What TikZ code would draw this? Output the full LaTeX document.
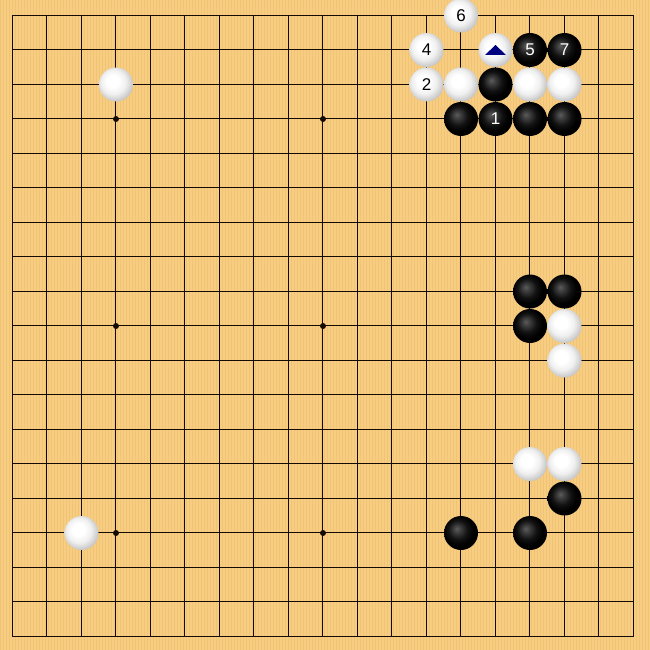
\documentclass[tikz,border=0pt]{standalone}
\usepackage{fontspec}
\setmainfont{Liberation Sans}
\pgfdeclareradialshading{blackstone}{\pgfpoint{-6.5bp}{6.5bp}}{color(0bp)=(black!64); color(5bp)=(black!75); color(14bp)=(black!93); color(22bp)=(black); color(50bp)=(black)}
\pgfdeclareradialshading{whitestone}{\pgfpoint{-6bp}{6bp}}{color(0bp)=(white); color(9bp)=(white); color(18bp)=(black!6); color(25bp)=(black!18); color(32bp)=(black!30); color(50bp)=(black!32)}
\definecolor{boardcol}{RGB}{247,205,130}
\definecolor{stripecol}{RGB}{241,195,119}
\definecolor{linecol}{RGB}{20,12,4}
\definecolor{markcol}{RGB}{0,0,128}
\tikzset{
  stone/.style={circle, minimum size=34pt, inner sep=0pt, font=\fontsize{17}{17}\selectfont},
  bstone/.style={stone, shading=blackstone, text=white},
  wstone/.style={stone, shading=whitestone, text=black},
  gridline/.style={draw=linecol, line width=1.25pt, line cap=rect},
  starpt/.style={circle, fill=linecol, minimum size=6pt, inner sep=0pt},
  trimark/.style={fill=markcol}
}
\begin{document}
\begin{tikzpicture}[x=1pt,y=-1pt]
\useasboundingbox (0,0) rectangle (650,650);
\fill[boardcol] (0,0) rectangle (650,650);
\foreach \s in {0,3,...,648} \fill[stripecol] (\s,0) rectangle (\s+1.3,650);
\foreach \i in {0,...,18} {
  \pgfmathsetmacro\px{floor(12+34.5*\i)+0.5}
  \pgfmathsetmacro\py{floor(15+34.5*\i)+0.5}
  \draw[gridline] (\px,15.5) -- (\px,636.5);
  \draw[gridline] (12.5,\py) -- (633.5,\py);
}
\begin{scope}[shift={(12.5,15.5)}, x=34.5pt, y=-34.5pt]
  \foreach \a/\b [count=\k] in {3/3,9/3,15/3,3/9,9/9,15/9,3/15,9/15,15/15}
    \node[starpt] (star\k) at (\a,\b) {};
  % white stones
  \node[wstone] (w3-2) at (3,2) {};
  \node[wstone] (w2-15) at (2,15) {};
  \node[wstone] (w13-0) at (13,0) {6};
  \node[wstone] (w12-1) at (12,1) {4};
  \node[wstone] (w14-1) at (14,1) {};
  \node[wstone] (w12-2) at (12,2) {2};
  \node[wstone] (w13-2) at (13,2) {};
  \node[wstone] (w15-2) at (15,2) {};
  \node[wstone] (w16-2) at (16,2) {};
  \node[wstone] (w16-9) at (16,9) {};
  \node[wstone] (w16-10) at (16,10) {};
  \node[wstone] (w15-13) at (15,13) {};
  \node[wstone] (w16-13) at (16,13) {};
  % black stones
  \node[bstone] (b15-1) at (15,1) {5};
  \node[bstone] (b16-1) at (16,1) {7};
  \node[bstone] (b14-2) at (14,2) {};
  \node[bstone] (b13-3) at (13,3) {};
  \node[bstone] (b14-3) at (14,3) {1};
  \node[bstone] (b15-3) at (15,3) {};
  \node[bstone] (b16-3) at (16,3) {};
  \node[bstone] (b15-8) at (15,8) {};
  \node[bstone] (b16-8) at (16,8) {};
  \node[bstone] (b15-9) at (15,9) {};
  \node[bstone] (b16-14) at (16,14) {};
  \node[bstone] (b13-15) at (13,15) {};
  \node[bstone] (b15-15) at (15,15) {};
  % triangle mark
  \fill[trimark] ([shift={(-10.5pt,-5pt)}]w14-1.center) -- ([shift={(10.5pt,-5pt)}]w14-1.center) -- ([shift={(0pt,5pt)}]w14-1.center) -- cycle;
\end{scope}
\end{tikzpicture}
\end{document}
